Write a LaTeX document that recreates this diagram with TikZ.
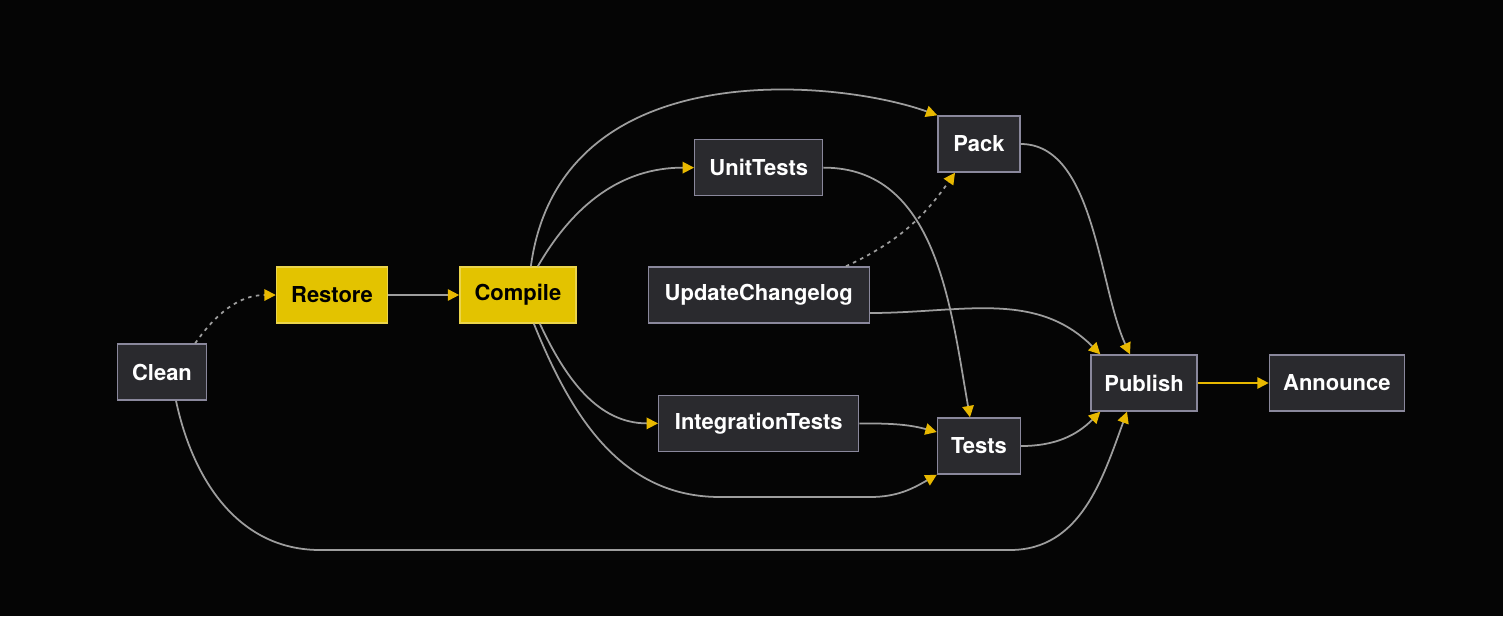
\documentclass[tikz,border=0pt]{standalone}
\usepackage{fontspec}
\setmainfont{TeX Gyre Heros}
\usepackage{xcolor}
\usepackage{tikz}
\usetikzlibrary{arrows.meta,positioning}

\definecolor{bgblack}{HTML}{050505}
\definecolor{boxfill}{HTML}{2A2A2E}
\definecolor{boxline}{HTML}{8A889C}
\definecolor{hotfill}{HTML}{E3C300}
\definecolor{edgegray}{HTML}{9E9E9E}
\definecolor{tipyellow}{HTML}{E8B800}

\begin{document}
\begin{tikzpicture}[
  x=0.02cm, y=-0.02cm,
  node distance=1.42cm,
  box/.style={draw=boxline, fill=boxfill, line width=0.8pt, text=white,
    font=\fontsize{12.5}{15}\selectfont\bfseries, minimum height=1.12cm},
  hot/.style={box, fill=hotfill, draw=hotfill!70!white, text=black},
  arr/.style={-{Triangle[length=6.5pt,width=6.5pt,color=tipyellow]}, draw=edgegray, line width=1pt},
  dep/.style={arr, dash pattern=on 2pt off 2.5pt}
]
  \fill[bgblack] (0,0) rectangle (1503,616);
  \useasboundingbox (0,0) rectangle (1503,616);

  \node[box, minimum width=1.78cm] (clean) at (162,372) {Clean};
  \node[hot, minimum width=2.22cm] (restore) at (332,295) {Restore};
  \node[hot, minimum width=2.32cm, right=of restore] (compile) {Compile};
  \node[box, minimum width=4.42cm, right=of compile] (changelog) {UpdateChangelog};
  \node[box, minimum width=2.56cm, above=1.4cm of changelog] (unittests) {UnitTests};
  \node[box, minimum width=4.0cm, below=of changelog] (integration) {IntegrationTests};
  \node[box, minimum width=1.64cm] (pack) at (979,144) {Pack};
  \node[box, minimum width=1.66cm] (tests) at (979,446) {Tests};
  \node[box, minimum width=2.12cm] (publish) at (1144,383) {Publish};
  \node[box, minimum width=2.7cm, right=of publish] (announce) {Announce};

  \draw[dep] ([xshift=-0.24cm]clean.north east) to[out=55,in=180] (restore.west);
  \draw[arr] (restore) -- (compile);
  \draw[arr] ([xshift=0.4cm]compile.north) to[out=60,in=180] (unittests.west);
  \draw[arr] ([xshift=0.26cm]compile.north) .. controls (560,50) and (840,80) .. (pack.north west);
  \draw[arr] ([xshift=0.44cm]compile.south) to[out=-65,in=180] (integration.west);
  \draw[arr] ([xshift=0.32cm]compile.south) to[out=-68,in=180] (720,497) -- (870,497)
    to[out=0,in=210] (tests.south west);
  \draw[arr] (unittests.east) to[out=0,in=100] ([xshift=-0.18cm]tests.north);
  \draw[dep] ([xshift=-0.48cm]changelog.north east) to[out=25,in=-125] ([xshift=-0.48cm]pack.south);
  \draw[arr] ([yshift=-0.36cm]changelog.east) to[out=0,in=135] ([xshift=0.2cm]publish.north west);
  \draw[arr] (integration.east) to[out=0,in=165] ([yshift=0.28cm]tests.west);
  \draw[arr] (pack.east) to[out=0,in=115,looseness=0.8] ([xshift=-0.28cm]publish.north);
  \draw[arr] (tests.east) to[out=0,in=225] ([xshift=0.2cm]publish.south west);
  \draw[arr] ([xshift=0.28cm]clean.south) to[out=-78,in=180] (320,550) -- (1010,550)
    to[out=0,in=250] ([xshift=-0.34cm]publish.south);
  \draw[arr, draw=tipyellow] (publish) -- (announce);
\end{tikzpicture}
\end{document}
